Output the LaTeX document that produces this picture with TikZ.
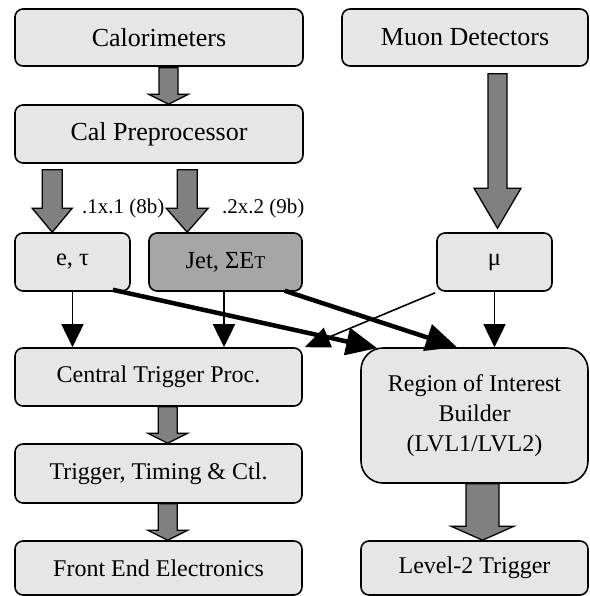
\documentclass[tikz,border=0pt]{standalone}
\usepackage{fontspec}
\setmainfont{Liberation Serif}
\usetikzlibrary{arrows.meta,calc}
\definecolor{boxfill}{HTML}{E6E6E6}
\definecolor{jetfill}{HTML}{A6A6A6}
\definecolor{arrfill}{HTML}{808080}
\newcommand\blockarrow[5]{%
  \draw[blockarr] ($(#1)+(-#3,0)$) -- ($(#2)+(-#3,-#5)$) -- ($(#2)+(-#4,-#5)$) -- (#2)
    -- ($(#2)+(#4,-#5)$) -- ($(#2)+(#3,-#5)$) -- ($(#1)+(#3,0)$) -- cycle;}
\begin{document}
\begin{tikzpicture}[x=1pt,y=-1pt,
  box/.style={draw, fill=boxfill, line width=1.6pt, rounded corners=8pt, inner sep=0pt, align=center},
  bigtxt/.style={font=\fontsize{26}{30}\selectfont},
  midtxt/.style={font=\fontsize{24.5}{30}\selectfont},
  smalltxt/.style={font=\fontsize{24}{30}\selectfont},
  lbl/.style={font=\fontsize{21}{24}\selectfont, inner sep=0pt, anchor=west},
  blockarr/.style={draw, fill=arrfill, line width=1.3pt, line join=miter},
  thinarr/.style={line width=1.6pt, -{Triangle[length=23pt,width=22pt]}},
  diagarr/.style={line width=1.6pt, -{Triangle[length=25pt,width=21pt]}},
  thickarr/.style={line width=4.5pt, -{Triangle[length=31pt,width=27pt]}}]
\useasboundingbox (0,0) rectangle (589,596);
% boxes
\node[box, bigtxt, minimum width=288pt, minimum height=57pt] (calo) at (159,37.5) {Calorimeters};
\node[box, bigtxt, minimum width=246pt, minimum height=57pt] (muon) at (465,37.5) {Muon Detectors};
\node[box, bigtxt, minimum width=288pt, minimum height=58pt] (calpre) at (159,134) {Cal Preprocessor};
\node[box, midtxt, minimum width=115pt, minimum height=58pt] (et) at (72.5,262) {e, τ};
\node[box, midtxt, fill=jetfill, minimum width=153pt, minimum height=58pt] (jet) at (225.5,262) {Jet, Σ\mbox{E{\fontsize{18}{20}\selectfont T}}};
\node[box, midtxt, minimum width=115pt, minimum height=58pt] (mu) at (494.5,262) {μ};
\node[box, smalltxt, minimum width=287pt, minimum height=58pt] (ctp) at (158.5,377) {Central Trigger Proc.};
\node[box, smalltxt, rounded corners=22pt, minimum width=227pt, minimum height=135pt] (roi) at (474.5,415.5) {Region of Interest\\Builder\\(LVL1/LVL2)};
\node[box, smalltxt, minimum width=287pt, minimum height=59pt] (ttc) at (158.5,473.5) {Trigger, Timing \& Ctl.};
\node[box, smalltxt, minimum width=287pt, minimum height=54pt] (fe) at (158.5,568) {Front End Electronics};
\node[box, smalltxt, minimum width=227pt, minimum height=54pt] (l2) at (474.5,568) {Level-2 Trigger};
% labels
\node[lbl] (lab1) at (82,208) {.1x.1 (8b)};
\node[lbl] (lab2) at (222,208) {.2x.2 (9b)};
% block arrows
\coordinate (a1s) at ($(calo.south)+(9.5,1)$);
\blockarrow{a1s}{a1s |- calpre.north}{9.5}{20}{10}
\coordinate (a2s) at ($(calpre.south west)+(38,6)$);
\blockarrow{a2s}{a2s |- et.north}{10}{20}{24}
\coordinate (a3s) at ($(calpre.south west)+(173,6)$);
\blockarrow{a3s}{a3s |- jet.north}{10}{21}{24}
\coordinate (a4s) at ($(muon.south)+(32.5,7)$);
\coordinate (a4e) at ($(a4s |- mu.north)+(0,-4)$);
\blockarrow{a4s}{a4e}{9.5}{23.5}{40}
\coordinate (a5s) at ($(ctp.south west)+(153.5,0)$);
\blockarrow{a5s}{a5s |- ttc.north}{9.5}{20}{10}
\coordinate (a6s) at ($(ttc.south west)+(153.5,0)$);
\blockarrow{a6s}{a6s |- fe.north}{9.5}{20}{10}
\coordinate (a7s) at ($(roi.south)+(8,0)$);
\blockarrow{a7s}{a7s |- l2.north}{16.5}{31.5}{14}
% thin arrows
\draw[thinarr] (et.south) -- (et.south |- ctp.north);
\draw[thinarr] ($(jet.south)+(-1.5,0)$) -- ($(jet.south |- ctp.north)+(-1.5,0)$);
\draw[thinarr] (mu.south) -- (mu.south |- roi.north);
\draw[diagarr] ($(mu.south west)+(-1,1)$) -- ($(ctp.north east)+(2,0)$);
% thick arrows
\draw[thickarr] ($(et.south east)+(-18,-2)$) -- ($(roi.north west)+(17,1)$);
\draw[thickarr] ($(jet.south east)+(-18,-1)$) -- ($(roi.north)+(-17.5,0)$);
\end{tikzpicture}
\end{document}
